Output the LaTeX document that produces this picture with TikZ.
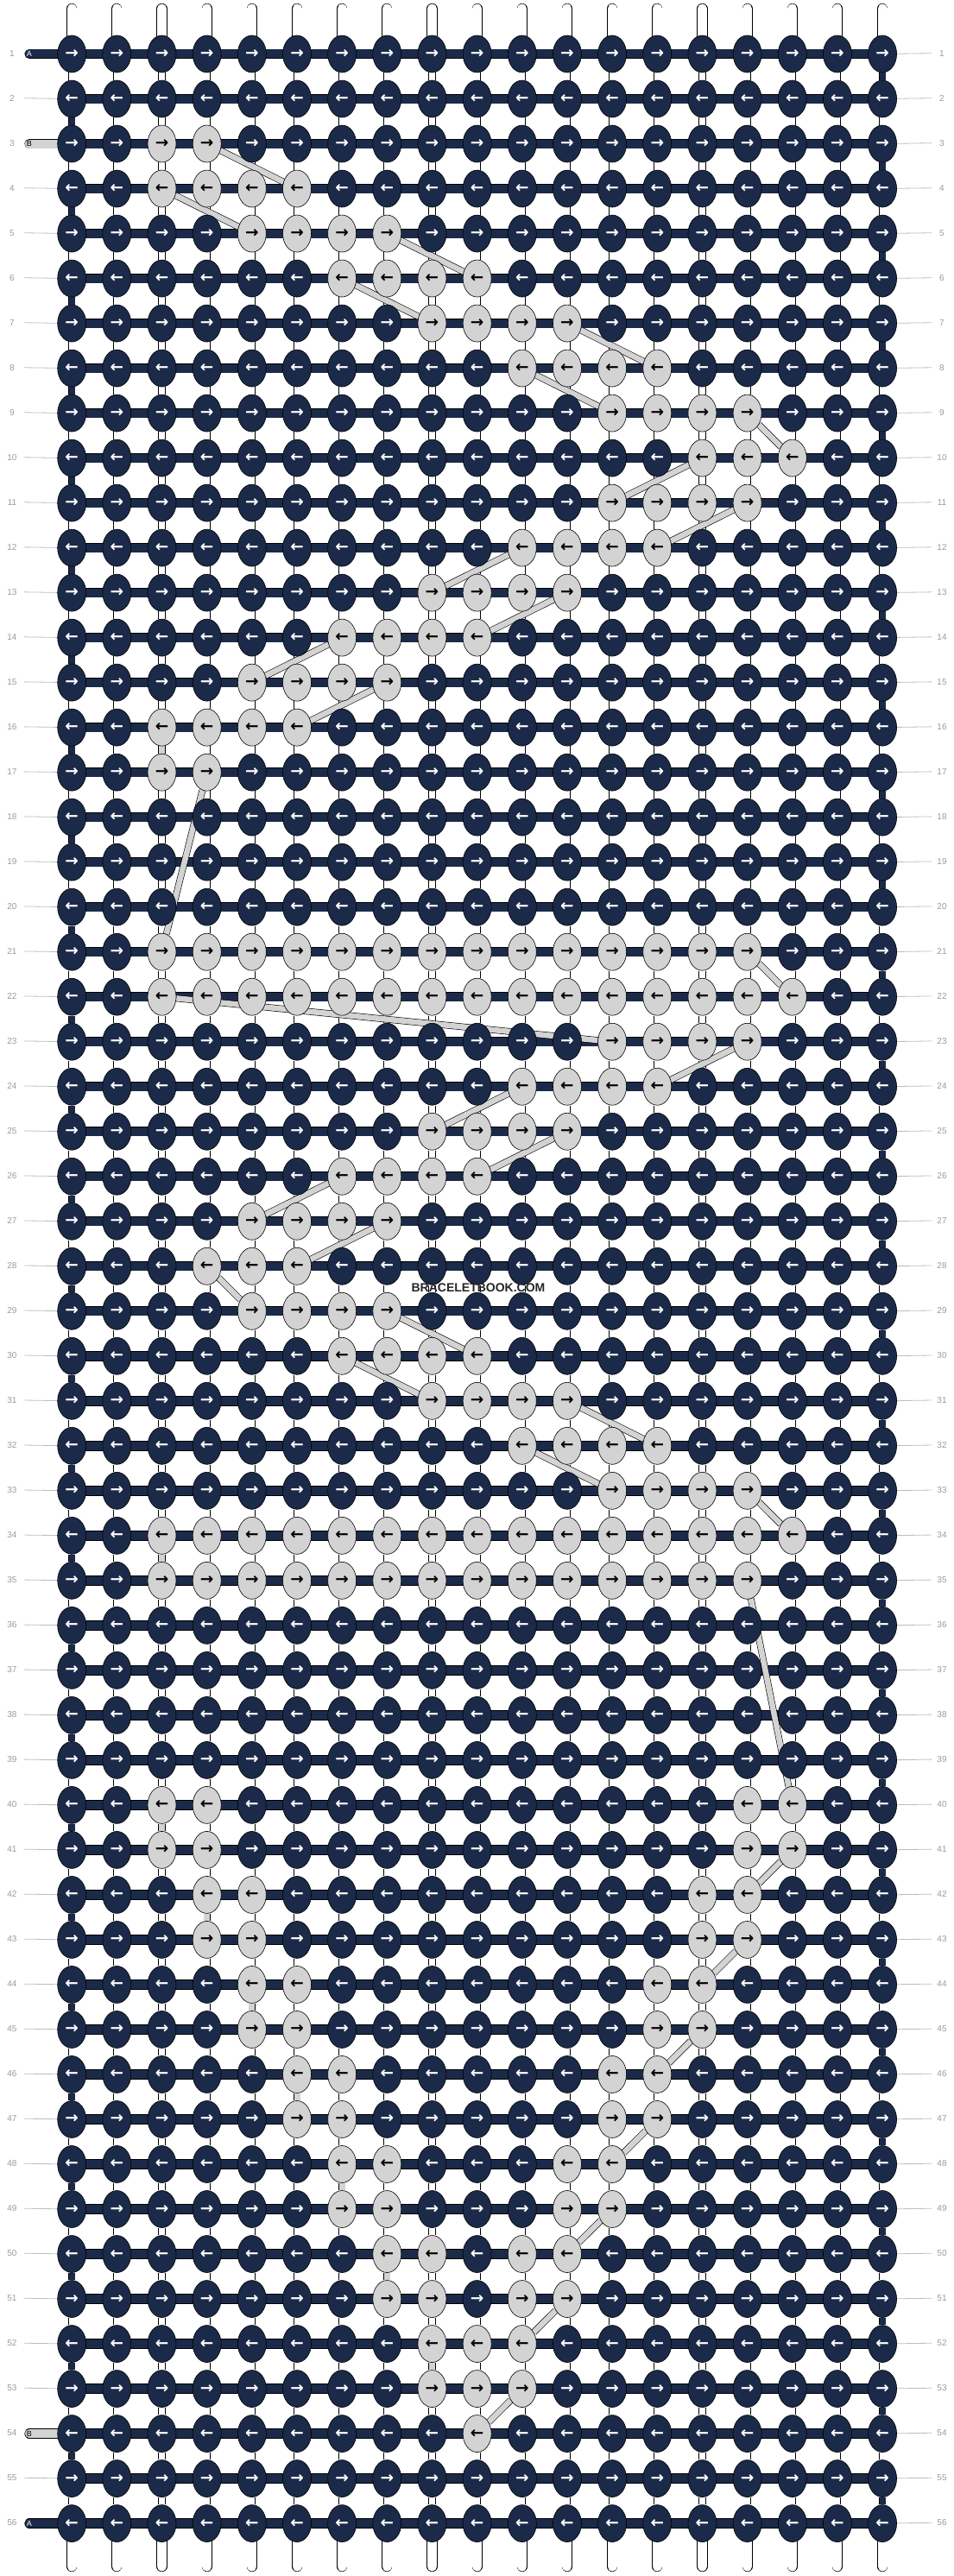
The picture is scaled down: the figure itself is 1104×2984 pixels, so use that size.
\documentclass[tikz,border=0pt]{standalone}
\usepackage{fontspec}
\setmainfont{Liberation Sans}
\newfontfamily\arrowfont{DejaVu Sans}
\usetikzlibrary{shapes.geometric}
\definecolor{knotdark}{HTML}{1B2A48}
\definecolor{knotlight}{HTML}{D3D3D3}
\definecolor{lblgray}{HTML}{9A9A9A}
\definecolor{linegray}{HTML}{BDBDBD}
\pgfdeclarelayer{strands}
\pgfdeclarelayer{bands}
\pgfdeclarelayer{conns}
\pgfdeclarelayer{top}
\pgfsetlayers{strands,bands,conns,main,top}
% light knots
\newcommand\setL[2]{\foreach \cc in {#2}{\expandafter\gdef\csname Lx#1x\cc\endcsname{}}}
\newcommand\setV[2]{\expandafter\gdef\csname Vx#1x#2\endcsname{}}
\setL{3}{3,4}
\setL{4}{3,4,5,6}
\setL{5}{5,6,7,8}
\setL{6}{7,8,9,10}
\setL{7}{9,10,11,12}
\setL{8}{11,12,13,14}
\setL{9}{13,14,15,16}
\setL{10}{15,16,17}
\setL{11}{13,14,15,16}
\setL{12}{11,12,13,14}
\setL{13}{9,10,11,12}
\setL{14}{7,8,9,10}
\setL{15}{5,6,7,8}
\setL{16}{3,4,5,6}
\setL{17}{3,4}
\setL{21}{3,...,16}
\setL{22}{3,...,17}
\setL{23}{13,14,15,16}
\setL{24}{11,12,13,14}
\setL{25}{9,10,11,12}
\setL{26}{7,8,9,10}
\setL{27}{5,6,7,8}
\setL{28}{4,5,6}
\setL{29}{5,6,7,8}
\setL{30}{7,8,9,10}
\setL{31}{9,10,11,12}
\setL{32}{11,12,13,14}
\setL{33}{13,14,15,16}
\setL{34}{3,...,17}
\setL{35}{3,...,16}
\setL{40}{3,4,16,17}
\setL{41}{3,4,16,17}
\setL{42}{4,5,15,16}
\setL{43}{4,5,15,16}
\setL{44}{5,6,14,15}
\setL{45}{5,6,14,15}
\setL{46}{6,7,13,14}
\setL{47}{6,7,13,14}
\setL{48}{7,8,12,13}
\setL{49}{7,8,12,13}
\setL{50}{8,9,11,12}
\setL{51}{8,9,11,12}
\setL{52}{9,10,11}
\setL{53}{9,10,11}
\setL{54}{10}
% vertical light pieces (row above, column)
\setV{16}{3}\setV{34}{3}\setV{40}{3}\setV{42}{4}\setV{44}{5}
\setV{46}{6}\setV{48}{7}\setV{50}{8}\setV{52}{9}
\tikzset{
  knot/.style={ellipse, draw=black, line width=0.6pt, minimum width=33pt,
    minimum height=43pt, inner sep=0pt, font=\arrowfont\bfseries\fontsize{18.5}{18.5}\selectfont},
  darkknot/.style={knot, fill=knotdark, text=white},
  lightknot/.style={knot, fill=knotlight, text=black},
  band/.style={draw=black, line width=0.7pt, double=knotdark, double distance=10pt},
  piece/.style={draw=black, line width=0.6pt, double=#1, double distance=7pt},
  tube/.style={draw=black, line width=0.6pt, double=white, double distance=11pt, line cap=round},
  endtube/.style={draw=black, line width=0.6pt, double=#1, double distance=10pt, line cap=round},
  conn/.style={draw=black, line width=0.6pt, double=knotlight, double distance=6.5pt},
  rowline/.style={draw=linegray, line width=0.8pt},
  rowlbl/.style={text=lblgray, font=\fontsize{10}{10}\selectfont, inner sep=0pt},
  endlbl/.style={font=\fontsize{9}{9}\selectfont, inner sep=0pt}
}
\begin{document}
\begin{tikzpicture}[x=1pt, y=-1pt]
\useasboundingbox (0,0) rectangle (1104,2984);
% knots
\foreach \row in {1,...,56}{
  \pgfmathsetmacro\yy{61.7+52.01*(\row-1)}
  \foreach \col in {1,...,19}{
    \pgfmathsetmacro\xx{83.2+52.16*(\col-1)}
    \ifcsname Lx\row x\col\endcsname\def\kst{lightknot}\else\def\kst{darkknot}\fi
    \ifodd\row\relax\def\arr{→}\else\def\arr{←}\fi
    \node[style=\kst] (k-\row-\col) at (\xx,\yy+0.8) {\arr};
  }
  \node[rowlbl] (nl-\row) at (14,\yy) {\row};
  \node[rowlbl] (nr-\row) at (1091,\yy) {\row};
  \coordinate (lL-\row) at (28,\yy);
  \coordinate (lR-\row) at (1079,\yy);
}
% strands, pieces, row lines
\begin{pgfonlayer}{strands}
\foreach \row in {1,...,56}{
  \draw[rowline] (lL-\row) -- (k-\row-1.center);
  \draw[rowline] (k-\row-19.center) -- (lR-\row);
}
\foreach \col in {1,...,19}{
  \pgfmathsetmacro\xx{83.2+52.16*(\col-1)}
  \coordinate (t-\col) at (\xx,10);
  \coordinate (b-\col) at (\xx,2973);
  \draw[tube] (t-\col) -- (k-1-\col.center);
  \draw[tube] (b-\col) -- (k-56-\col.center);
  \foreach \row [evaluate=\row as \nx using int(\row+1)] in {1,...,55}{
    \def\pc{white}%
    \ifnum\col=19\relax\ifodd\row\relax\def\pc{knotdark}\fi\fi
    \ifnum\col=1\relax\ifodd\row\relax\else\def\pc{knotdark}\fi\fi
    \ifcsname Vx\row x\col\endcsname\def\pc{knotlight}\fi
    \draw[piece=\pc] (k-\row-\col) -- (k-\nx-\col);
  }
}
\end{pgfonlayer}
% horizontal bands and end tubes
\begin{pgfonlayer}{bands}
\foreach \row in {1,...,56}{
  \draw[band] (k-\row-1.center) -- (k-\row-19.center);
}
\foreach \row/\clr/\txt/\tc in {1/knotdark/A/white, 3/knotlight/B/black, 54/knotlight/B/black, 56/knotdark/A/white}{
  \pgfmathsetmacro\yy{61.7+52.01*(\row-1)+0.8}
  \coordinate (s-\row) at (34,\yy);
  \draw[endtube=\clr] (s-\row) -- (k-\row-1.center);
  \node[endlbl, text=\tc] (e-\row) at (34,\yy) {\txt};
}
\end{pgfonlayer}
% light thread connectors
\begin{pgfonlayer}{conns}
\foreach \a/\b in {3-4/4-6, 4-3/5-5, 5-8/6-10, 6-7/7-9, 7-12/8-14, 8-11/9-13,
  9-16/10-17, 10-15/11-13, 11-16/12-14, 12-11/13-9, 13-12/14-10, 14-7/15-5,
  15-8/16-6, 17-4/21-3, 21-16/22-17, 22-3/23-13, 23-16/24-14, 24-11/25-9,
  25-12/26-10, 26-7/27-5, 27-8/28-6, 28-4/29-5, 29-8/30-10, 30-7/31-9,
  31-12/32-14, 32-11/33-13, 33-16/34-17, 35-16/40-17, 41-17/42-16,
  43-16/44-15, 45-15/46-14, 47-14/48-13, 49-13/50-12, 51-12/52-11, 53-11/54-10}{
  \draw[conn] (k-\a) -- (k-\b);
}
\end{pgfonlayer}
\begin{pgfonlayer}{top}
\node[font=\bfseries\fontsize{14}{14}\selectfont, text=black!85, inner sep=0pt] (wm) at (554,1492) {BRACELETBOOK.COM};
\end{pgfonlayer}
\end{tikzpicture}
\end{document}
